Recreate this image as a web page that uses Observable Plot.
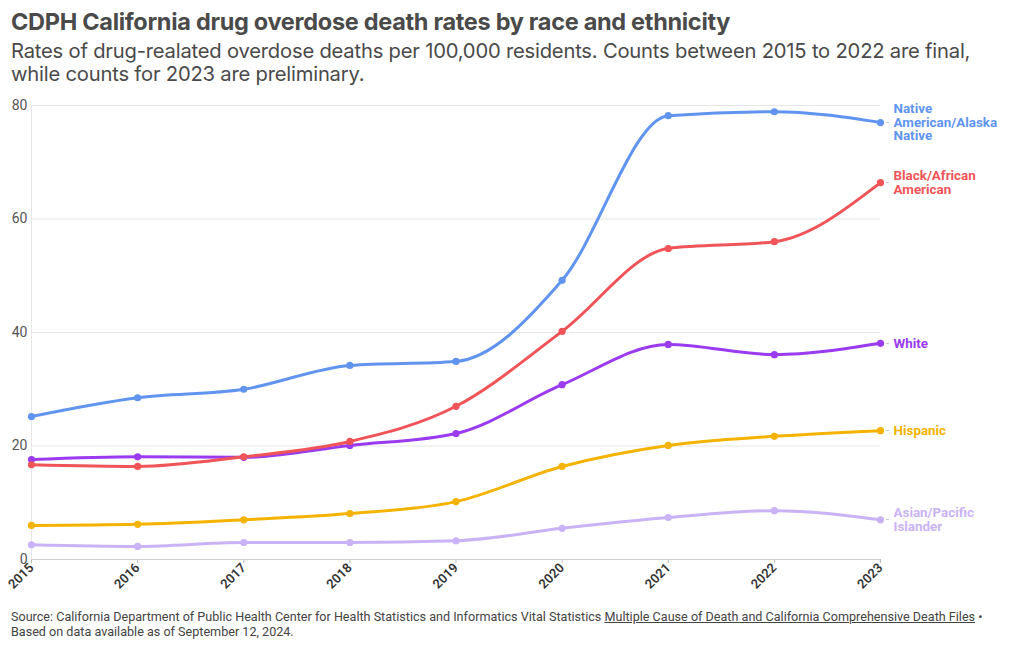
<!DOCTYPE html>
<html>
<head>
<meta charset="utf-8">
<script src="https://cdn.jsdelivr.net/npm/d3@7"></script>
<script src="https://cdn.jsdelivr.net/npm/@observablehq/plot@0.6"></script>
<style>
  body { margin: 0; background: #fff; font-family: Roboto, sans-serif; }
  #wrap { width: 1020px; height: 650px; overflow: hidden; }
  h1 { margin: 0; padding: 7px 0 0 11px; height: 31px; font-family: Inter, sans-serif; font-size: 23.5px; line-height: 30px; font-weight: 700; color: #4a4a4a; letter-spacing: -0.3px; white-space: nowrap; }
  .sub { margin: 0; padding: 1px 0 0 11px; height: 51px; font-family: Inter, sans-serif; font-size: 20.2px; color: #4a4a4a; line-height: 23px; letter-spacing: -0.2px; width: 990px; }
  #chart { height: 505px; }
  #chart svg { display: block; }
  .cap { padding: 14px 0 0 11px; font-size: 12.6px; color: #444; line-height: 15px; }
  .cap u { text-decoration: underline; }
</style>
</head>
<body>
<div id="wrap">
  <h1>CDPH California drug overdose death rates by race and ethnicity</h1>
  <div class="sub">Rates of drug-realated overdose deaths per 100,000 residents. Counts between 2015 to 2022 are final, while counts for 2023 are preliminary.</div>
  <div id="chart"></div>
  <div class="cap">Source: California Department of Public Health Center for Health Statistics and Informatics Vital Statistics <u>Multiple Cause of Death and California Comprehensive Death Files</u> •<br>Based on data available as of September 12, 2024.</div>
</div>
<script>
const years = [2015, 2016, 2017, 2018, 2019, 2020, 2021, 2022, 2023];
const groups = ["Native American/Alaska Native", "Black/African American", "White", "Hispanic", "Asian/Pacific Islander"];
const labels = ["Native\nAmerican/Alaska\nNative", "Black/African\nAmerican", "White", "Hispanic", "Asian/Pacific\nIslander"];
const colors = ["#6194ef", "#ef5458", "#9a3bef", "#f5b301", "#c9b3f6"];
const nativeRates = [25.2, 28.5, 30.0, 34.2, 34.9, 49.2, 78.2, 78.9, 77.0];
const blackRates = [16.7, 16.4, 18.1, 20.8, 27.0, 40.2, 54.8, 56.0, 66.4];
const whiteRates = [17.6, 18.1, 18.0, 20.1, 22.2, 30.8, 37.9, 36.1, 38.1];
const hispanicRates = [6.0, 6.2, 7.0, 8.1, 10.2, 16.4, 20.1, 21.7, 22.7];
const asianRates = [2.6, 2.3, 3.0, 3.0, 3.3, 5.5, 7.4, 8.6, 7.0];
const yTicks = [0, 20, 40, 60, 80];

const series = [nativeRates, blackRates, whiteRates, hispanicRates, asianRates];
const drawOrder = [4, 3, 2, 1, 0];
const data = [];
drawOrder.forEach(i => years.forEach((yr, j) => data.push({group: groups[i], year: yr, value: series[i][j]})));
const last = groups.map((g, i) => ({group: g, label: labels[i], year: 2023, value: series[i][8]}));

const chart = Plot.plot({
  width: 1020,
  height: 505,
  marginLeft: 31,
  marginRight: 140,
  marginTop: 15,
  marginBottom: 36,
  style: {fontFamily: "Roboto, sans-serif", overflow: "visible", background: "#fff"},
  x: {domain: [2015, 2023], label: null},
  y: {domain: [0, 80], label: null},
  color: {domain: groups, range: colors},
  marks: [
    Plot.gridY(yTicks, {stroke: "#e6e6e6", strokeOpacity: 1}),
    Plot.ruleX([2015], {stroke: "#e6e6e6"}),
    Plot.axisY(yTicks, {tickSize: 0, tickPadding: 4, fontSize: 14, fill: "#555", label: null}),
    Plot.axisX(years, {tickFormat: d => String(d), tickRotate: -45, tickSize: 4, stroke: "#bbb", fontSize: 13, fontWeight: 600, fill: "#333", label: null, tickPadding: 2}),
    Plot.ruleY([0], {stroke: "#cfcfcf"}),
    Plot.line(data, {x: "year", y: "value", z: "group", stroke: "group", strokeWidth: 3, curve: "monotone-x"}),
    Plot.dot(data, {x: "year", y: "value", fill: "group", r: 3.6}),
    Plot.text(last, {x: "year", y: "value", text: () => "-", dx: 7, fill: "#bbb", fontSize: 11}),
    Plot.text(last, {x: "year", y: "value", text: "label", fill: "group", dx: 13, textAnchor: "start", lineAnchor: "middle", lineHeight: 1, fontSize: 13.4, fontWeight: 700})
  ]
});
document.getElementById("chart").appendChild(chart);
</script>
</body>
</html>
